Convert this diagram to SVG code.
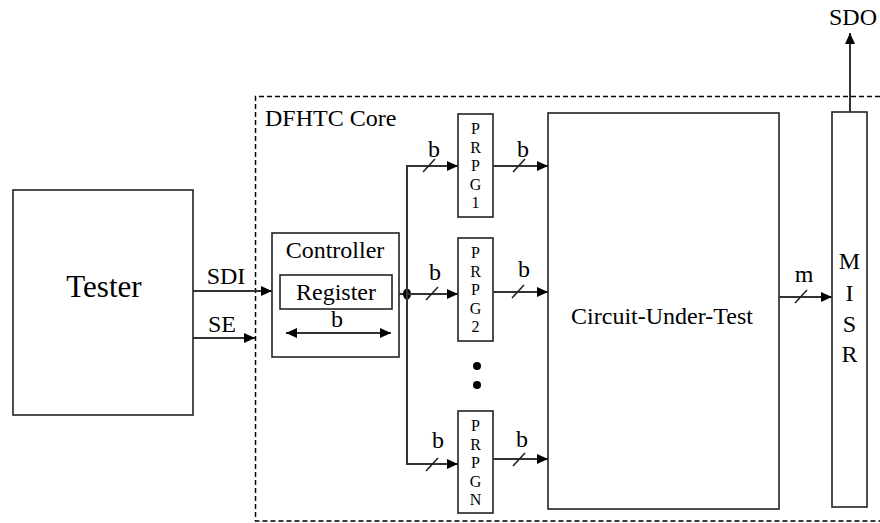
<svg xmlns="http://www.w3.org/2000/svg" width="880" height="523" viewBox="0 0 880 523">
<defs>
<marker id="ah" viewBox="0 0 11 10" refX="11" refY="5" markerWidth="11" markerHeight="10" markerUnits="userSpaceOnUse" orient="auto-start-reverse">
<path d="M0,0 L11,5 L0,10 Z" fill="#000"/>
</marker>
<style>
text{font-family:'Liberation Serif','Times New Roman',serif;fill:#000}
.box{fill:#fff;stroke:#222;stroke-width:1.6}
.ln{fill:none;stroke:#333;stroke-width:2}
.arr{fill:none;stroke:#333;stroke-width:2;marker-end:url(#ah)}
.sl{stroke:#222;stroke-width:1.6}
.lbl{font-size:24px;text-anchor:middle}
.v16{font-size:16px;text-anchor:middle}
.v20{font-size:24px;text-anchor:middle}
.dash{fill:none;stroke:#000;stroke-width:1.5;stroke-dasharray:5,3}
</style>
</defs>
<rect width="880" height="523" fill="#fff"/>

<g id="core">
<path class="dash" d="M880,96.5 H255.5 V521 H880"/>
<text x="265" y="126" style="font-size:24px">DFHTC Core</text>
</g>

<g id="tester">
<rect class="box" x="13" y="190" width="180" height="225"/>
<text x="104" y="297" style="font-size:31px;text-anchor:middle">Tester</text>
</g>

<g id="controller">
<rect class="box" x="272" y="233" width="127" height="124"/>
<text class="lbl" x="335" y="258">Controller</text>
<rect class="box" x="280" y="275" width="112" height="34"/>
<text class="lbl" x="336" y="300">Register</text>
<line class="arr" x1="286" y1="333" x2="391" y2="333" style="marker-start:url(#ah)"/>
<text class="lbl" x="337" y="327">b</text>
</g>

<g id="prpg1">
<rect class="box" x="458" y="114" width="35" height="103"/>
<text class="v16" x="475.5" y="134">P</text>
<text class="v16" x="475.5" y="152.5">R</text>
<text class="v16" x="475.5" y="171">P</text>
<text class="v16" x="475.5" y="189.5">G</text>
<text class="v16" x="475.5" y="208">1</text>
</g>

<g id="prpg2">
<rect class="box" x="458" y="238" width="35" height="103"/>
<text class="v16" x="475.5" y="258">P</text>
<text class="v16" x="475.5" y="276.5">R</text>
<text class="v16" x="475.5" y="295">P</text>
<text class="v16" x="475.5" y="313.5">G</text>
<text class="v16" x="475.5" y="332">2</text>
</g>

<g id="prpgn">
<rect class="box" x="458" y="411" width="35" height="102"/>
<text class="v16" x="475.5" y="431">P</text>
<text class="v16" x="475.5" y="449.5">R</text>
<text class="v16" x="475.5" y="468">P</text>
<text class="v16" x="475.5" y="486.5">G</text>
<text class="v16" x="475.5" y="505">N</text>
</g>

<g id="dots">
<circle cx="477" cy="366" r="4" fill="#000"/>
<circle cx="477" cy="385" r="4" fill="#000"/>
</g>

<g id="cut">
<rect class="box" x="548" y="113" width="231" height="396"/>
<text class="lbl" x="662" y="324">Circuit-Under-Test</text>
</g>

<g id="misr">
<rect class="box" x="832" y="112" width="35" height="395"/>
<text class="v20" x="849.5" y="269">M</text>
<text class="v20" x="849.5" y="301">I</text>
<text class="v20" x="849.5" y="332">S</text>
<text class="v20" x="849.5" y="362">R</text>
</g>

<g id="connectors">
<line class="arr" x1="193" y1="291" x2="272" y2="291"/>
<text class="lbl" x="226" y="284">SDI</text>
<line class="arr" x1="193" y1="338" x2="255" y2="338"/>
<text class="lbl" x="222" y="332">SE</text>

<line class="ln" x1="399" y1="294" x2="407" y2="294"/>
<ellipse cx="407" cy="294" rx="4" ry="5.5" fill="#000"/>
<path class="ln" d="M458,166 H407 V464 H458"/>
<path class="arr" d="M407,166 H458"/>
<path class="arr" d="M407,294 H458"/>
<path class="arr" d="M407,464 H458"/>

<line class="arr" x1="493" y1="166" x2="548" y2="166"/>
<line class="arr" x1="493" y1="292" x2="548" y2="292"/>
<line class="arr" x1="493" y1="459" x2="548" y2="459"/>
<line class="arr" x1="779" y1="297" x2="832" y2="297"/>
<line class="arr" x1="850" y1="112" x2="850" y2="33"/>
<text class="lbl" x="853" y="25">SDO</text>

<line class="sl" x1="423" y1="172" x2="435" y2="159"/>
<line class="sl" x1="513" y1="172" x2="525" y2="159"/>
<line class="sl" x1="426" y1="300" x2="438" y2="287"/>
<line class="sl" x1="512" y1="298" x2="524" y2="285"/>
<line class="sl" x1="426" y1="471" x2="438" y2="458"/>
<line class="sl" x1="513" y1="466" x2="525" y2="453"/>
<line class="sl" x1="795" y1="303" x2="807" y2="290"/>

<text class="lbl" x="434" y="157">b</text>
<text class="lbl" x="523" y="157">b</text>
<text class="lbl" x="435" y="280">b</text>
<text class="lbl" x="524" y="277">b</text>
<text class="lbl" x="438" y="448">b</text>
<text class="lbl" x="522" y="447">b</text>
<text class="lbl" x="804" y="282">m</text>
</g>
</svg>
